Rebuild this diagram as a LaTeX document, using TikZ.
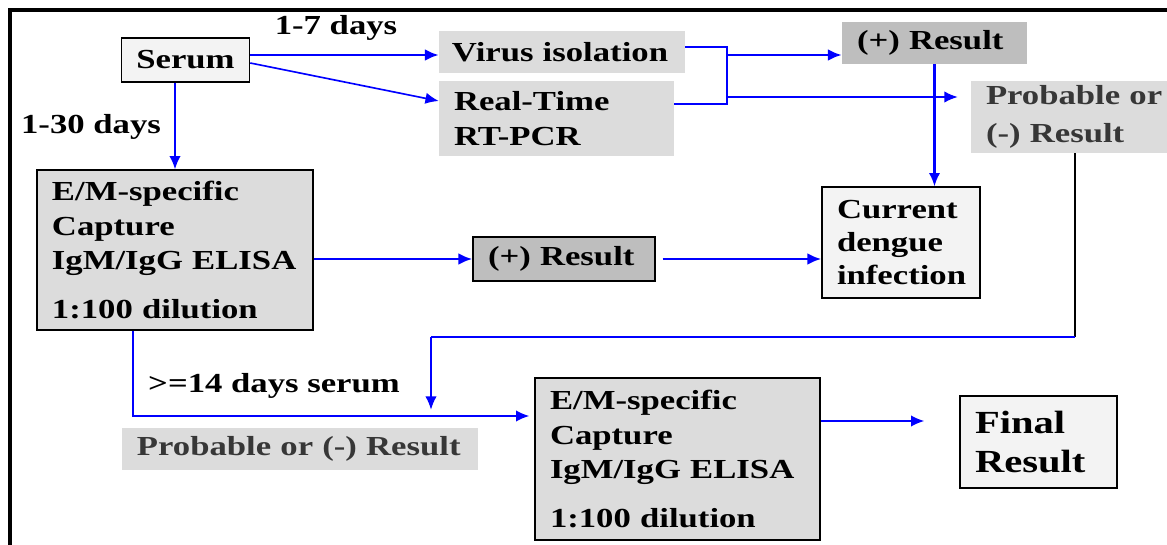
\documentclass[tikz,border=0pt]{standalone}
\usepackage{fontspec}
\setmainfont{Liberation Serif}[FakeStretch=1.26]
\usetikzlibrary{arrows.meta}
\definecolor{grisclair}{RGB}{243,243,243}
\definecolor{grismoyen}{RGB}{220,220,220}
\definecolor{grisfonce}{RGB}{190,190,190}
\definecolor{textegris}{RGB}{55,55,55}
\definecolor{bleu}{RGB}{0,0,255}
\begin{document}
\begin{tikzpicture}[x=0.03cm,y=-0.03cm]
	% Styles (MODIFIABLES)
	\tikzstyle{fleche}=[->,>={Latex[length=0.42cm,width=0.36cm]},bleu,line width=2.4pt]
	\tikzstyle{flechefine}=[->,>={Latex[length=0.4cm,width=0.34cm]},bleu,line width=1.4pt]
	\tikzstyle{trait}=[bleu,line width=2.4pt]
	\tikzstyle{traitfin}=[bleu,line width=1.4pt]
	\tikzstyle{traitnoir}=[black,line width=1.3pt]
	\tikzstyle{boite}=[inner xsep=0.45cm,inner ysep=0pt,align=left,font=\fontsize{23.5}{29.5}\selectfont\bfseries]
	\tikzstyle{cadre}=[draw=black,line width=1.1pt]
	\tikzstyle{etiquette}=[inner sep=0pt,font=\fontsize{23.5}{29.5}\selectfont\bfseries]
	% Bordure
	\useasboundingbox (0,0) rectangle (1167,545);
	\draw[line width=3.2pt] (10,570) -- (10,10) -- (1190,10);
	% Noeuds
	\node[boite,cadre,fill=grisclair,minimum width=3.75cm,minimum height=1.32cm] (serum) at (185.5,60) {Serum};
	\node[boite,fill=grismoyen,inner xsep=0.39cm,minimum width=7.38cm,minimum height=1.26cm,text width=6.6cm] (virus) at (562,52) {Virus isolation};
	\node[boite,fill=grismoyen,minimum width=7.05cm,minimum height=2.25cm,text width=6.15cm] (pcr) at (556.5,118.5) {Real-Time\\RT-PCR};
	\node[boite,fill=grisfonce,minimum width=5.49cm,minimum height=1.26cm,text width=4.65cm] (posA) at (934.5,43) {(+) Result};
	\node[boite,fill=grismoyen,text=textegris,minimum width=6.6cm,minimum height=2.16cm,text width=5.7cm] (probA) at (1081,117) {Probable or\\[2.5pt](-) Result};
	\node[boite,cadre,fill=grisclair,minimum width=4.74cm,minimum height=3.33cm,text width=3.84cm] (current) at (901,242.5) {Current\\[-1.5pt]dengue\\[-1.5pt]infection};
	\node[boite,cadre,fill=grismoyen,minimum width=8.28cm,minimum height=4.8cm,text width=7.38cm] (elisaA) at (175,250) {E/M-specific\\Capture\\IgM/IgG ELISA\\[12pt]1:100 dilution};
	\node[boite,cadre,fill=grisfonce,minimum width=5.46cm,minimum height=1.32cm,text width=4.56cm] (posB) at (564,259) {(+) Result};
	\node[boite,fill=grismoyen,text=textegris,minimum width=10.62cm,minimum height=1.26cm,text width=9.78cm] (probB) at (300,449) {Probable or (-) Result};
	\node[boite,cadre,fill=grismoyen,minimum width=8.55cm,minimum height=4.86cm,text width=7.65cm] (elisaB) at (677.5,459) {E/M-specific\\Capture\\IgM/IgG ELISA\\[12pt]1:100 dilution};
	\node[boite,cadre,fill=grisclair,minimum width=4.71cm,minimum height=2.76cm,text width=3.81cm,font=\fontsize{27.5}{34}\selectfont\bfseries] (final) at (1038.5,442) {Final\\Result};
	% Etiquettes
	\node[etiquette] (duree7) at (336,28) {1-7 days};
	\node[etiquette] (duree30) at (91,127) {1-30 days};
	\node[etiquette] (duree14) at (274,386) {>=14 days serum};
	% Points de passage
	\coordinate (coude) at (727,47);
	\coordinate (descente) at (1075,337);
	\coordinate (virage) at (431,337);
	\coordinate (coin) at (133,416);
	% Arcs (MODIFIABLES : Styles)
	\draw[fleche] (serum.east |- 0,55) -- (virus.west |- 0,55);
	\draw[flechefine] (serum.east |- 0,63) -- (pcr.west |- 0,101);
	\draw[flechefine] (serum.south -| elisaA.north) -- (elisaA.north);
	\draw[trait] (virus.east |- coude) -- (coude) -- (coude |- 0,104) -- (pcr.east |- 0,104);
	\draw[fleche] (coude |- 0,55) -- (posA.west |- 0,55);
	\draw[flechefine,shorten >=0.39cm] (coude |- 0,97) -- (probA.west |- 0,97);
	\draw[flechefine,line width=1.8pt] (posA.south) -- (posA.south |- current.north);
	\draw[fleche] (elisaA.east |- posB) -- (posB.west);
	\draw[fleche,shorten <=0.21cm] (posB.east) -- (posB.east -| current.west);
	\draw[traitnoir] (descente |- probA.south) -- (descente);
	\draw[traitfin] (descente) -- (virage);
	\draw[flechefine,shorten >=0.54cm] (virage) -- (virage |- probB.north);
	\draw[flechefine,shorten >=0.15cm] (coin |- elisaA.south) -- (coin) -- (coin -| elisaB.west);
	\draw[flechefine,shorten >=1.05cm] (elisaB.east |- 0,421) -- (final.west |- 0,421);
\end{tikzpicture}
\end{document}
